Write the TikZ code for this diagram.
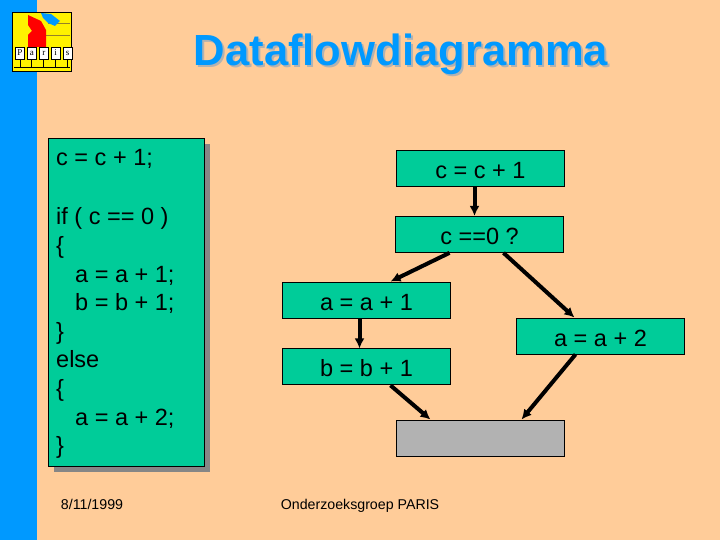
\documentclass[tikz,border=0pt]{standalone}
\usepackage{fontspec}
\setmainfont{Liberation Sans}
\newfontfamily\logofont{Liberation Serif}
\usepackage{xcolor}
\usetikzlibrary{positioning,arrows.meta}
\definecolor{pagebg}{RGB}{255,204,153}
\definecolor{sidebar}{RGB}{0,153,255}
\definecolor{boxgreen}{RGB}{0,204,153}
\definecolor{boxgrey}{RGB}{178,178,178}
\definecolor{shadowgrey}{RGB}{134,134,134}
\definecolor{titleshadow}{RGB}{178,178,178}
\definecolor{logoline}{RGB}{150,130,40}
\tikzset{
stmt/.style={
draw=black,
line width=0.9pt,
minimum width=168.5pt,
minimum height=36pt,
inner sep=0pt,
text height=20pt,
text depth=0pt,
fill=boxgreen,
font=\fontsize{23.5}{27}\selectfont
},
arrow/.style={
-{Latex[length=10pt,width=10pt]},
line width=4pt
},
tile/.style={
draw=black,
line width=0.6pt,
fill=white,
minimum width=9pt,
minimum height=12pt,
inner sep=0pt,
font=\fontsize{9}{9}\logofont
},
headline/.style={
font=\fontsize{43.6}{44}\selectfont\bfseries
},
footer/.style={
anchor=base,
font=\fontsize{14.2}{14}\selectfont
}
}

\begin{document}
\begin{tikzpicture}[x=1pt,y=1pt,node distance=30pt]
\useasboundingbox (0,0) rectangle (720,-540);
\fill[pagebg] (0,0) rectangle (720,-540);
\fill[sidebar] (0,0) rectangle (37,-540);

% logo
\draw[fill=yellow,line width=0.9pt] (12.5,-12.5) rectangle (71.5,-71.5);
\draw[logoline,line width=0.5pt] (48,-23) -- (70,-23) (46,-35) -- (70,-35);
\fill[red] (28,-15) -- (41,-21) -- (46,-30) -- (46,-47) -- (28,-47) -- (28,-35) -- (32,-31) -- (28,-25) -- cycle;
\fill[sidebar] (41,-13) -- (51,-14) -- (60,-21) -- (55,-26) -- (48,-23) -- (43,-18) -- cycle;
\coordinate (base) at (14,-67.5);
\coordinate (baseend) at (70,-67.5);
\node[tile](p1) at (20,-53){P};
\node[tile,right=2.3pt of p1](p2){a};
\node[tile,right=2.3pt of p2](p3){r};
\node[tile,right=2.3pt of p3](p4){i};
\node[tile,right=2.3pt of p4](p5){s};
\foreach \x in {p1,p2,p3,p4,p5}
\draw[line width=1pt](\x.south)--(\x.south |- base);
\draw[line width=1.6pt](base)--(baseend);

% title
\node[headline,text=titleshadow] at (403,-56){Dataflowdiagramma};
\node[headline,text=sidebar](title) at (401,-54){Dataflowdiagramma};

% source code
\fill[shadowgrey] (54,-144) rectangle (210,-472);
\node[draw=black,line width=0.9pt,fill=boxgreen,minimum width=156pt,minimum height=328pt,anchor=north west,
inner sep=0pt](code) at (48,-138){};
\node[anchor=north west,align=left,inner sep=0pt,font=\fontsize{23.5}{28.6}\selectfont](src) at (56,-149){%
c = c + 1;\\[31pt]
if ( c == 0 )\\
\{\\
\hspace*{19pt}a = a + 1;\\
\hspace*{19pt}b = b + 1;\\
\}\\
else\\
\{\\
\hspace*{19pt}a = a + 2;\\
\}};

% flow
\node[stmt](cc) at (480.5,-168.5){c = c + 1};
\node[stmt,below=29pt of cc,xshift=-1pt](test){c ==0 ?};
\node[stmt](aa) at (366.5,-300){a = a + 1};
\node[stmt,below=30pt of aa](bb){b = b + 1};
\node[stmt](ab) at (600.5,-336){a = a + 2};
\node[stmt,fill=boxgrey](join) at (480.5,-438){};

\draw[arrow]([xshift=-6pt]cc.south)--([xshift=-5pt]test.north);
\draw[arrow]([xshift=-30pt]test.south)--([xshift=24pt]aa.north);
\draw[arrow]([xshift=24pt]test.south)--([xshift=-26pt]ab.north);
\draw[arrow]([xshift=-7pt]aa.south)--([xshift=-7pt]bb.north);
\draw[arrow]([xshift=24pt]bb.south)--([xshift=-50pt]join.north);
\draw[arrow]([xshift=-25pt]ab.south)--([xshift=41pt]join.north);

% footer
\node[footer](date) at (92,-509){8/11/1999};
\node[footer](group) at (360,-509){Onderzoeksgroep PARIS};
\end{tikzpicture}
\end{document}
